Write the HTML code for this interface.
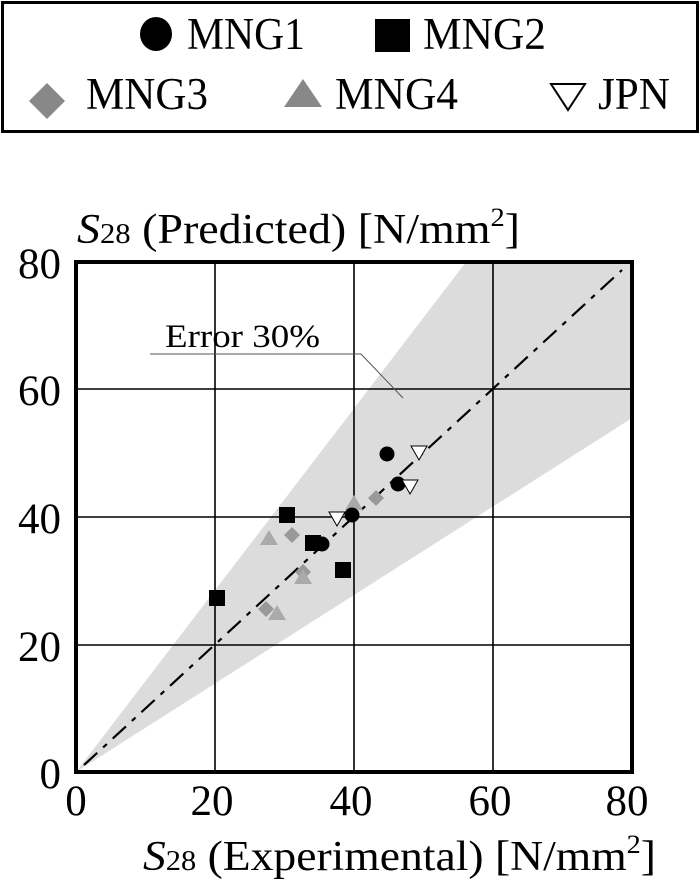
<!DOCTYPE html>
<html><head><meta charset="utf-8"><style>
html,body{margin:0;padding:0;background:#fff}
svg text{font-family:"Liberation Serif",serif;fill:#000}
</style></head><body>
<svg width="700" height="881" viewBox="0 0 700 881" xmlns="http://www.w3.org/2000/svg">
<!-- legend -->
<rect x="2.5" y="2.5" width="695" height="129" fill="#fff" stroke="#000" stroke-width="3"/>
<ellipse cx="156" cy="34" rx="16" ry="17" fill="#000"/>
<text x="187" y="49" font-size="45" textLength="118" lengthAdjust="spacingAndGlyphs">MNG1</text>
<rect x="375" y="19" width="35" height="33" fill="#000"/>
<text x="423" y="49" font-size="45" textLength="123" lengthAdjust="spacingAndGlyphs">MNG2</text>
<polygon points="47,83 65,101 47,119 29,101" fill="#888"/>
<text x="86" y="109" font-size="45" textLength="122" lengthAdjust="spacingAndGlyphs">MNG3</text>
<polygon points="303,79 322,107 284,107" fill="#888"/>
<text x="335" y="109" font-size="45" textLength="123" lengthAdjust="spacingAndGlyphs">MNG4</text>
<polygon points="551,84 585,84 568,110" fill="#fff" stroke="#000" stroke-width="2"/>
<text x="598" y="109" font-size="45" textLength="72" lengthAdjust="spacingAndGlyphs">JPN</text>

<!-- axis title -->
<text x="77" y="243" font-size="42" textLength="443" lengthAdjust="spacingAndGlyphs"><tspan font-style="italic">S</tspan><tspan font-size="28">28</tspan> (Predicted) [N/mm<tspan font-size="26" dy="-17">2</tspan><tspan dy="17">]</tspan></text>

<!-- shade -->
<polygon points="76,772 466,262 632,262 632,418" fill="#dcdcdc"/>
<!-- grid -->
<g stroke="#000" stroke-width="1.6">
<line x1="215" y1="262" x2="215" y2="772"/>
<line x1="354" y1="262" x2="354" y2="772"/>
<line x1="493" y1="262" x2="493" y2="772"/>
<line x1="76" y1="389" x2="632" y2="389"/>
<line x1="76" y1="517" x2="632" y2="517"/>
<line x1="76" y1="645" x2="632" y2="645"/>
</g>
<!-- 1:1 line -->
<line x1="84" y1="765" x2="622" y2="270" stroke="#000" stroke-width="2.2" stroke-dasharray="18,8,5,8"/>
<!-- error label -->
<text x="165" y="347" font-size="33" textLength="155" lengthAdjust="spacingAndGlyphs">Error 30%</text>
<polyline points="150,354 361,354 403,398" fill="none" stroke="#555" stroke-width="1"/>

<!-- MNG3 diamonds -->
<g fill="#999">
<polygon points="266,601 274,609 266,617 258,609"/>
<polygon points="292,527 300,535 292,543 284,535"/>
<polygon points="303,564 311,572 303,580 295,572"/>
<polygon points="376,490 384,498 376,506 368,498"/>
</g>
<!-- MNG4 triangles -->
<g fill="#aaa">
<polygon points="269,530 278,545 260,545"/>
<polygon points="277,605 286,620 268,620"/>
<polygon points="303,569 312,584 294,584"/>
<polygon points="354,495 363,510 345,510"/>
</g>
<!-- MNG2 squares -->
<g fill="#000">
<rect x="209" y="590" width="16" height="16"/>
<rect x="279" y="507" width="16" height="16"/>
<rect x="305" y="535" width="16" height="16"/>
<rect x="335" y="562" width="16" height="16"/>
</g>
<!-- MNG1 circles -->
<g fill="#000">
<circle cx="387" cy="454" r="7.5"/>
<circle cx="398" cy="484" r="7.5"/>
<circle cx="352" cy="515" r="7.5"/>
<circle cx="322" cy="544" r="7.5"/>
</g>
<!-- JPN -->
<g fill="#fff" stroke="#000" stroke-width="1">
<polygon points="411,446 427,446 419,460"/>
<polygon points="402,480 418,480 410,494"/>
<polygon points="329,512 345,512 337,526"/>
</g>
<!-- frame -->
<rect x="76" y="262" width="556" height="510" fill="none" stroke="#000" stroke-width="4"/>

<!-- tick labels -->
<g font-size="43">
<text x="61" y="278" text-anchor="end">80</text>
<text x="61" y="405" text-anchor="end">60</text>
<text x="61" y="533" text-anchor="end">40</text>
<text x="61" y="661" text-anchor="end">20</text>
<text x="61" y="788" text-anchor="end">0</text>
<text x="76" y="815" text-anchor="middle">0</text>
<text x="212" y="815" text-anchor="middle">20</text>
<text x="351" y="815" text-anchor="middle">40</text>
<text x="490" y="815" text-anchor="middle">60</text>
<text x="627" y="815" text-anchor="middle">80</text>
</g>
<text x="143" y="870" font-size="42" textLength="513" lengthAdjust="spacingAndGlyphs"><tspan font-style="italic">S</tspan><tspan font-size="28">28</tspan> (Experimental) [N/mm<tspan font-size="26" dy="-17">2</tspan><tspan dy="17">]</tspan></text>
</svg>
</body></html>
